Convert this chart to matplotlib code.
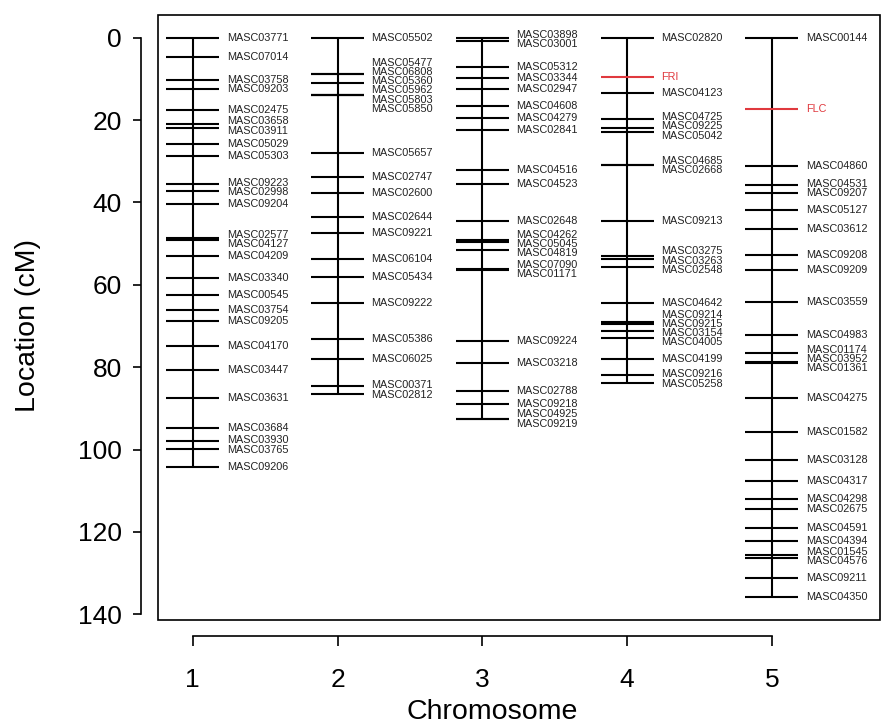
import numpy as np
import matplotlib
matplotlib.use("Agg")
import matplotlib.pyplot as plt
from matplotlib.patches import Rectangle

plt.rcParams['font.family'] = ['Liberation Sans', 'DejaVu Sans']

# Marker names and positions (cM)
chr1_markers = ["MASC03771", "MASC07014", "MASC03758", "MASC09203", "MASC02475",
                "MASC03658", "MASC03911", "MASC05029", "MASC05303", "MASC09223",
                "MASC02998", "MASC09204", "MASC02577", "MASC04127", "MASC04209",
                "MASC03340", "MASC00545", "MASC03754", "MASC09205", "MASC04170",
                "MASC03447", "MASC03631", "MASC03684", "MASC03930", "MASC03765",
                "MASC09206"]
chr1_pos = [0.0, 4.8, 10.3, 12.5, 17.6, 20.9, 22.0, 25.7, 28.7, 35.6,
            37.3, 40.3, 48.7, 49.2, 53.0, 58.3, 62.5, 66.0, 68.8, 74.8,
            80.7, 87.6, 94.7, 97.9, 99.9, 104.2]

chr2_markers = ["MASC05502", "MASC05477", "MASC06808", "MASC05360", "MASC05962",
                "MASC05803", "MASC05850", "MASC05657", "MASC02747", "MASC02600",
                "MASC02644", "MASC09221", "MASC06104", "MASC05434", "MASC09222",
                "MASC05386", "MASC06025", "MASC00371", "MASC02812"]
chr2_pos = [0.0, 8.7, 8.8, 10.9, 13.8, 13.9, 14.0, 27.9, 33.9, 37.8,
            43.6, 47.5, 53.8, 58.2, 64.5, 73.2, 77.9, 84.5, 86.6]

chr3_markers = ["MASC03898", "MASC03001", "MASC05312", "MASC03344", "MASC02947",
                "MASC04608", "MASC04279", "MASC02841", "MASC04516", "MASC04523",
                "MASC02648", "MASC04262", "MASC05045", "MASC04819", "MASC07090",
                "MASC01171", "MASC09224", "MASC03218", "MASC02788", "MASC09218",
                "MASC04925", "MASC09219"]
chr3_pos = [0.0, 0.8, 7.1, 9.9, 12.5, 16.7, 19.5, 22.3, 32.2, 35.6,
            44.4, 49.2, 49.7, 51.5, 56.2, 56.3, 73.7, 79.1, 85.7, 88.9,
            92.6, 92.6]

chr4_markers = ["MASC02820", "FRI", "MASC04123", "MASC04725", "MASC09225",
                "MASC05042", "MASC04685", "MASC02668", "MASC09213", "MASC03275",
                "MASC03263", "MASC02548", "MASC04642", "MASC09214", "MASC09215",
                "MASC03154", "MASC04005", "MASC04199", "MASC09216", "MASC05258"]
chr4_pos = [0.0, 9.5, 13.4, 19.7, 22.0, 22.9, 31.0, 31.0, 44.5, 52.9,
            53.8, 55.6, 64.3, 69.0, 69.4, 71.1, 72.9, 78.0, 82.0, 83.8]

chr5_markers = ["MASC00144", "FLC", "MASC04860", "MASC04531", "MASC09207",
                "MASC05127", "MASC03612", "MASC09208", "MASC09209", "MASC03559",
                "MASC04983", "MASC01174", "MASC03952", "MASC01361", "MASC04275",
                "MASC01582", "MASC03128", "MASC04317", "MASC04298", "MASC02675",
                "MASC04591", "MASC04394", "MASC01545", "MASC04576", "MASC09211",
                "MASC04350"]
chr5_pos = [0.0, 17.2, 31.1, 35.7, 37.7, 41.8, 46.4, 52.7, 56.5, 64.1,
            72.2, 76.5, 78.8, 78.9, 87.4, 95.8, 102.5, 107.6, 112.1, 114.5,
            119.1, 122.1, 125.6, 126.3, 131.1, 135.9]

chromosomes = ["1", "2", "3", "4", "5"]
all_markers = [chr1_markers, chr2_markers, chr3_markers, chr4_markers, chr5_markers]
all_pos = [chr1_pos, chr2_pos, chr3_pos, chr4_pos, chr5_pos]
highlight = ["FRI", "FLC"]


def spread_labels(pos, gap):
    # merge overlapping labels into groups centred on their mean position
    groups = [[p] for p in pos]
    merged = True
    while merged:
        merged = False
        out = [groups[0]]
        for g in groups[1:]:
            prev = out[-1]
            prev_end = np.mean(prev) + (len(prev) - 1) / 2 * gap
            g_start = np.mean(g) - (len(g) - 1) / 2 * gap
            if g_start - prev_end < gap:
                out[-1] = prev + g
                merged = True
            else:
                out.append(g)
        groups = out
    res = []
    for g in groups:
        c = np.mean(g)
        n = len(g)
        res.extend(c + (np.arange(n) - (n - 1) / 2) * gap)
    return res


fig = plt.figure(figsize=(8.94, 7.26), dpi=100)
ax = fig.add_axes([0.1767, 0.146, 0.8076, 0.833])

half = 0.183
for i, (names, pos) in enumerate(zip(all_markers, all_pos)):
    x = i + 1
    ax.plot([x, x], [min(pos), max(pos)], color='black', lw=1.5, solid_capstyle='butt')
    for n, p in zip(names, pos):
        c = '#e0393e' if n in highlight else 'black'
        ax.plot([x - half, x + half], [p, p], color=c, lw=1.5, solid_capstyle='butt')
    ypos = spread_labels(pos, 2.25)
    for n, yl in zip(names, ypos):
        c = '#e0393e' if n in highlight else '#222222'
        ax.text(x + 0.235, yl, n, fontsize=7.8, color=c, ha='left', va='center')

ax.set_xlim(0.76, 5.746)
ax.set_ylim(141.4, -5.46)

for s in ['top', 'right']:
    ax.spines[s].set_visible(False)
ax.spines['left'].set_position(('outward', 12))
ax.spines['bottom'].set_position(('outward', 11.5))
ax.spines['left'].set_bounds(0, 140)
ax.spines['bottom'].set_bounds(1, 5)
ax.spines['left'].set_linewidth(1.2)
ax.spines['bottom'].set_linewidth(1.2)
ax.add_patch(Rectangle((0, 0), 1, 1, transform=ax.transAxes, fill=False,
                       lw=1.2, edgecolor='black', clip_on=False))

ax.set_yticks(np.arange(0, 141, 20))
ax.set_xticks(range(1, 6))
ax.set_xticklabels(chromosomes)
ax.tick_params(axis='y', labelsize=19, length=6, width=1.2, pad=8)
ax.tick_params(axis='x', labelsize=19, length=7, width=1.2, pad=16)

fig.text(28 / 894, 1 - 325 / 726, 'Location (cM)', rotation=90, fontsize=20.5,
         ha='center', va='center')
fig.text(492 / 894, 1 - 712 / 726, 'Chromosome', fontsize=20.5,
         ha='center', va='center')

fig.savefig('out.png', dpi=100)
